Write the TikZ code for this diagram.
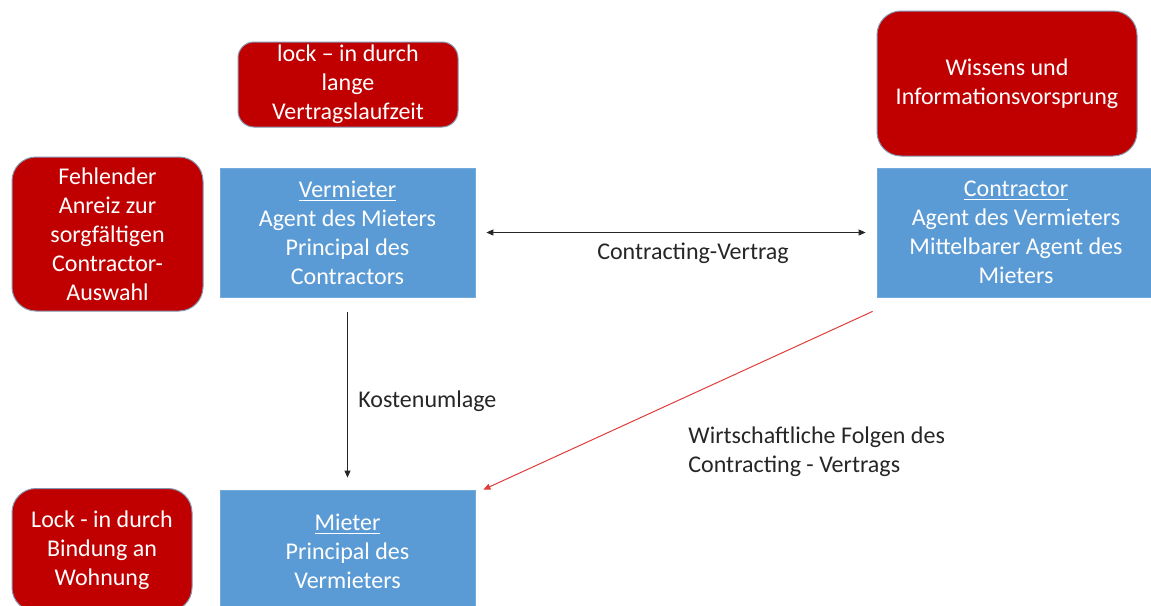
\documentclass[tikz,border=0pt]{standalone}
\usepackage{fontspec}
\setmainfont{Carlito}
\usetikzlibrary{calc, arrows.meta}

\definecolor{boxred}{HTML}{C00000}
\definecolor{boxblue}{HTML}{5B9BD5}
\definecolor{rimgray}{HTML}{8497B0}
\definecolor{arrowred}{HTML}{E03C3C}
\definecolor{labelgray}{HTML}{262626}

\begin{document}
\begin{tikzpicture}[x=0.5pt, y=-0.5pt,
    every node/.style={font=\fontsize{12}{14.5}\selectfont},
    redbox/.style={fill=boxred, draw=rimgray, line width=0.5pt,
        rounded corners=12pt, text=white, align=center,
        inner sep=0pt},
    bluebox/.style={fill=boxblue, draw=boxblue!85!white, line width=0.4pt,
        text=white, align=center, inner sep=0pt},
    link/.style={draw=labelgray, line width=0.5pt,
        -{Triangle[length=3.5pt, width=3pt]}},
    label/.style={text=labelgray, inner sep=0pt}]

    \useasboundingbox (0,0) rectangle (1151,605);

    % actors
    \node[bluebox, minimum width=127.5pt, minimum height=64.5pt]
        (verm) at (347.5,232.5)
        {\underline{Vermieter}\\Agent des Mieters\\Principal des\\Contractors};
    \node[bluebox, minimum width=139pt, minimum height=64.5pt]
        (contr) at (1016,232.5)
        {\underline{Contractor}\\Agent des Vermieters\\Mittelbarer Agent des\\Mieters};
    \node[bluebox, minimum width=127.5pt, minimum height=61pt]
        (mieter) at (347.5,551)
        {\underline{Mieter}\\Principal des\\Vermieters};

    % problems
    \node[redbox, minimum width=95.5pt, minimum height=77pt]
        (anreiz) at (107.5,234)
        {Fehlender\\Anreiz zur\\sorgfältigen\\Contractor-\\Auswahl};
    \node[redbox, rounded corners=8pt, minimum width=110pt, minimum height=42.5pt]
        (laufzeit) at (348,84.5)
        {lock – in durch\\lange\\Vertragslaufzeit};
    \node[redbox, minimum width=130pt, minimum height=72.5pt]
        (wissen) at (1007,83.5)
        {Wissens und\\Informationsvorsprung};
    \node[redbox, minimum width=90pt, minimum height=61.5pt]
        (bindung) at (102,550)
        {Lock - in durch\\Bindung an\\Wohnung};

    % relations
    \draw[link, {Triangle[length=3.5pt, width=3pt]}-{Triangle[length=3.5pt, width=3pt]},
        shorten <=5.5pt, shorten >=5.5pt] (verm) -- (contr);
    \node[label] (vertrag) at (693,253) {Contracting-Vertrag};

    \draw[link, shorten <=7.5pt, shorten >=6pt] (verm.south) -- (mieter.north);
    \node[label, anchor=west] (umlage) at (358,401) {Kostenumlage};

    \coordinate (folgestart) at ($(contr.south west)+(-4,14)$);
    \coordinate (folgeend) at ($(mieter.north east)+(8,0)$);
    \draw[link, draw=arrowred] (folgestart) -- (folgeend);
    \node[label, anchor=north west, align=left] (folgen) at (688,426)
        {Wirtschaftliche Folgen des\\Contracting - Vertrags};
\end{tikzpicture}
\end{document}
